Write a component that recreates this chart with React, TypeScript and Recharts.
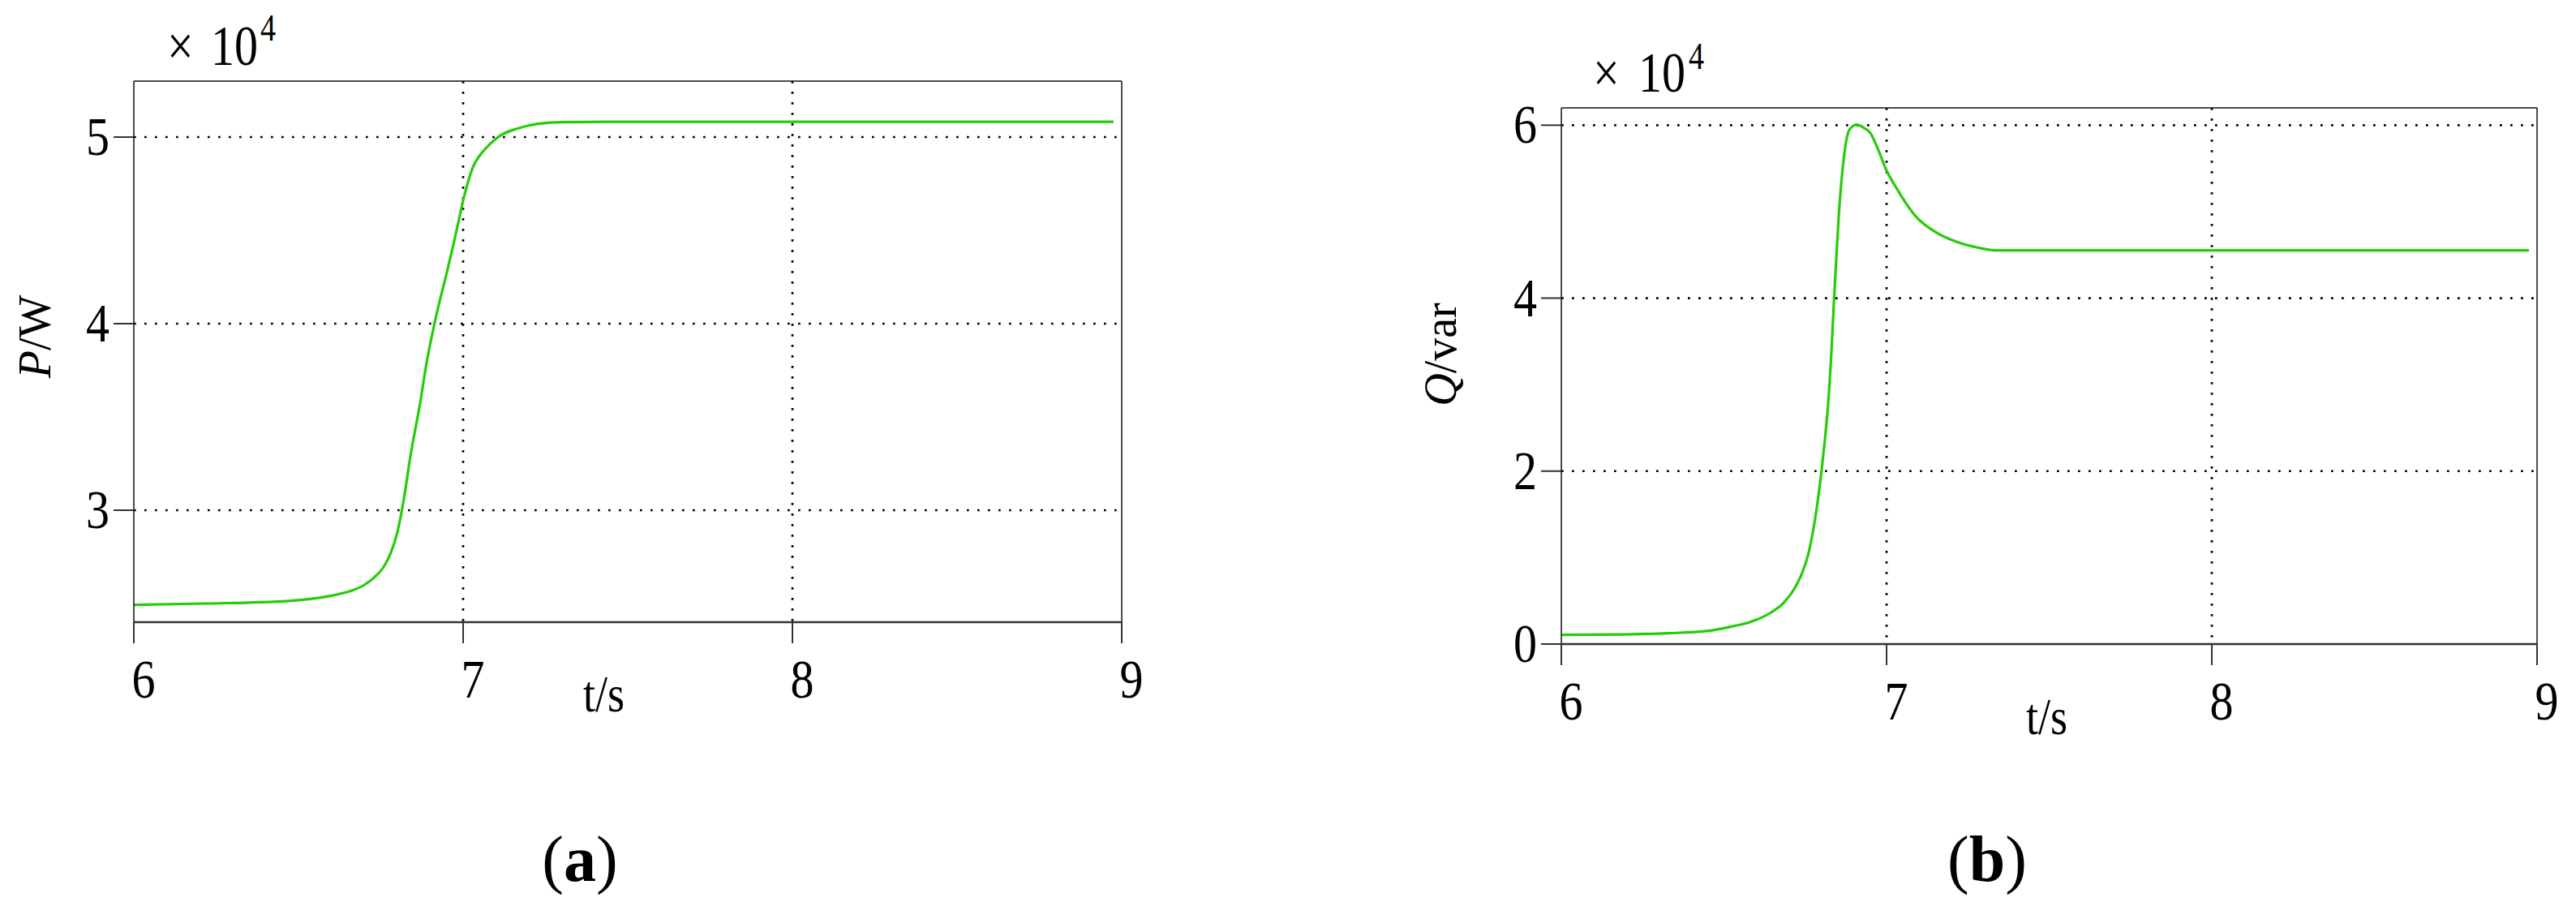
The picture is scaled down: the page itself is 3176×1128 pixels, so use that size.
import React from "react";
import { LineChart, Line, XAxis, YAxis, CartesianGrid, ReferenceLine } from "recharts";

// ---------- data ----------
const timeTicks = [6, 7, 8, 9];

// (a) active power P [W]
const pTime = [6.0, 6.22, 6.47, 6.6, 6.66, 6.7, 6.73, 6.76, 6.78, 6.8, 6.82, 6.84, 6.87, 6.89, 6.913, 6.93, 6.95, 6.97, 6.99, 7.0, 7.015, 7.03, 7.05, 7.08, 7.11, 7.165, 7.227, 7.3, 7.5, 8.0, 8.5, 8.975];
const pValue = [24930, 25000, 25140, 25420, 25680, 26000, 26400, 27000, 27700, 28800, 30600, 32900, 35800, 38000, 40000, 41300, 42700, 44200, 45800, 46600, 47600, 48400, 49000, 49600, 50050, 50460, 50710, 50800, 50820, 50820, 50820, 50820];
const pTicks = [30000, 40000, 50000];
const pDomain = [24000, 53000];

// (b) reactive power Q [var]
const qTime = [6.0, 6.2, 6.327, 6.454, 6.531, 6.581, 6.645, 6.683, 6.715, 6.74, 6.76, 6.775, 6.79, 6.8, 6.81, 6.82, 6.83, 6.838, 6.846, 6.853, 6.86, 6.867, 6.876, 6.888, 6.908, 6.931, 6.95, 6.97, 7.0, 7.033, 7.09, 7.154, 7.218, 7.281, 7.332, 7.6, 8.0, 8.5, 8.975];
const qValue = [1060, 1120, 1250, 1530, 2090, 2560, 3660, 4750, 6310, 8200, 10500, 13300, 17000, 20000, 23500, 27600, 33500, 39500, 45000, 49500, 53000, 55700, 58200, 59600, 60060, 59660, 59100, 57560, 54750, 52560, 49440, 47560, 46470, 45840, 45530, 45530, 45530, 45530, 45530];
const qTicks = [0, 20000, 40000, 60000];
const qDomain = [0, 62000];

const pData = pTime.map((t, i) => ({ t, v: pValue[i] }));
const qData = qTime.map((t, i) => ({ t, v: qValue[i] }));

// ---------- styles ----------
const SERIF = '"Liberation Serif", "Times New Roman", serif';
const GREEN = "#26cc08";
const SY = 1.17;

function SText({ x, y, size, anchor = "start", sy = SY, children }: any) {
  return (
    <text
      transform={`translate(${x},${y}) scale(1,${sy})`}
      x={0}
      y={0}
      fontSize={size}
      textAnchor={anchor}
      fontFamily={SERIF}
      fill="#000"
    >
      {children}
    </text>
  );
}

const YTick = (props: any) => {
  const { x, y, payload } = props;
  return (
    <SText x={x} y={y + 22} size={58} anchor="end">
      {String(payload.value / 10000)}
    </SText>
  );
};

const XTick = (props: any) => {
  const { x, y, payload } = props;
  return (
    <SText x={x + 12} y={y + 67} size={58} anchor="middle">
      {String(payload.value)}
    </SText>
  );
};

function Panel({ data, domain, ticks, gridY, width, height, margin }: any) {
  return (
    <LineChart width={width} height={height} data={data} margin={margin}>
      <CartesianGrid
        stroke="#000"
        strokeWidth={2.7}
        strokeDasharray="2.7 10.3"
        verticalValues={[7, 8]}
        horizontalValues={gridY}
      />
      <XAxis
        dataKey="t"
        type="number"
        domain={[6, 9]}
        ticks={timeTicks}
        allowDataOverflow
        height={100}
        tickSize={26}
        tickMargin={0}
        tickLine={{ stroke: "#333", strokeWidth: 2 }}
        axisLine={{ stroke: "#333", strokeWidth: 2.5 }}
        tick={<XTick />}
        interval={0}
      />
      <YAxis
        type="number"
        domain={domain}
        ticks={ticks}
        allowDataOverflow
        width={100}
        tickSize={25}
        tickMargin={5}
        tickLine={{ stroke: "#333", strokeWidth: 2 }}
        axisLine={{ stroke: "#111", strokeWidth: 1.5 }}
        tick={<YTick />}
        interval={0}
      />
      <ReferenceLine y={domain[1]} stroke="#111" strokeWidth={1.5} />
      <ReferenceLine x={9} stroke="#111" strokeWidth={1.5} />
      <Line
        type="monotone"
        dataKey="v"
        stroke={GREEN}
        strokeWidth={3.2}
        dot={false}
        activeDot={false}
        isAnimationActive={false}
      />
    </LineChart>
  );
}

export default function App() {
  return (
    <div style={{ position: "absolute", left: 0, top: 0, width: 3176, height: 1128, background: "#fff" }}>
      <div style={{ position: "absolute", left: 0, top: 0 }}>
        <Panel
          data={pData}
          domain={pDomain}
          ticks={pTicks}
          gridY={[30000, 40000, 50000]}
          width={1500}
          height={1128}
          margin={{ top: 100, right: 117, left: 65, bottom: 261 }}
        />
      </div>
      <div style={{ position: "absolute", left: 1800, top: 0 }}>
        <Panel
          data={qData}
          domain={qDomain}
          ticks={qTicks}
          gridY={[20000, 40000, 60000]}
          width={1376}
          height={1128}
          margin={{ top: 133, right: 48, left: 25, bottom: 234 }}
        />
      </div>
      <svg
        width={3176}
        height={1128}
        style={{ position: "absolute", left: 0, top: 0, pointerEvents: "none" }}
      >
        {/* multipliers */}
        <SText x={206} y={80} size={58} sy={1.2}>×</SText>
        <SText x={260} y={80} size={58} sy={1.2}>10</SText>
        <SText x={321} y={50} size={38} sy={1.2}>4</SText>
        <SText x={1964} y={113} size={58} sy={1.2}>×</SText>
        <SText x={2020} y={113} size={58} sy={1.2}>10</SText>
        <SText x={2082} y={85} size={38} sy={1.2}>4</SText>

        {/* y-axis titles */}
        <text
          transform="translate(62,415) rotate(-90)"
          textAnchor="middle"
          fontSize={56}
          fontFamily={SERIF}
          fill="#000"
        >
          <tspan fontStyle="italic">P</tspan>
          <tspan>/W</tspan>
        </text>
        <text
          transform="translate(1795,437) rotate(-90)"
          textAnchor="middle"
          fontSize={56}
          fontFamily={SERIF}
          fill="#000"
        >
          <tspan fontStyle="italic">Q</tspan>
          <tspan>/var</tspan>
        </text>

        {/* x-axis titles */}
        <SText x={719} y={877} size={54}>t/s</SText>
        <SText x={2498} y={905} size={54}>t/s</SText>

        {/* panel captions */}
        <text x={715} y={1086} textAnchor="middle" fontSize={80} fontFamily={SERIF} fill="#000">
          (<tspan fontWeight="bold">a</tspan>)
        </text>
        <text x={2450} y={1086} textAnchor="middle" fontSize={80} fontFamily={SERIF} fill="#000">
          (<tspan fontWeight="bold">b</tspan>)
        </text>
      </svg>
    </div>
  );
}
